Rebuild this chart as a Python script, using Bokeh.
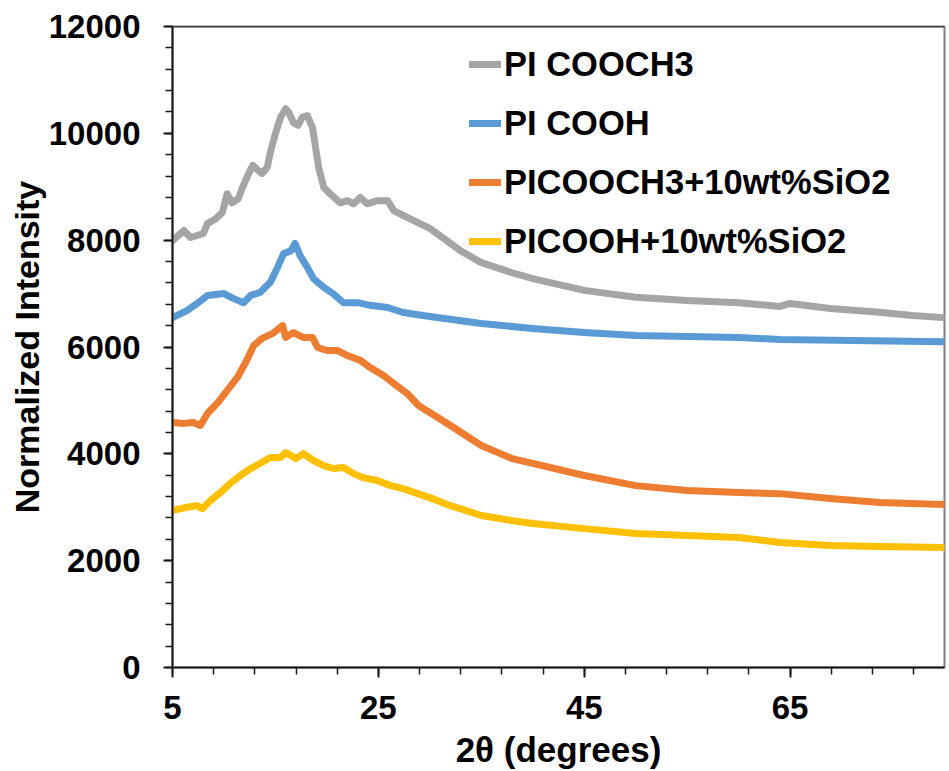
from bokeh.plotting import figure
from bokeh.models import FixedTicker, Span, Legend
from bokeh.embed import file_html
from bokeh.resources import INLINE

# ---- data ----
x_cooch3 = [5, 6.1, 6.75, 8, 8.4, 9.2, 9.85, 10.3, 10.8, 11.4, 11.8, 12.4, 12.8, 13.35, 13.7,
            14.2, 14.5, 15, 15.5, 16, 16.3, 16.75, 17.2, 17.6, 18.1, 18.6, 18.9, 19.2, 19.7,
            20.3, 21.3, 22, 22.6, 23.25, 23.9, 24.9, 25.9, 26.5, 27.8, 30, 33, 35, 38, 40,
            45, 50, 55, 60, 64, 65, 68.9, 73.7, 76.9, 79.9]
y_cooch3 = [7993, 8180, 8050, 8125, 8310, 8400, 8520, 8870, 8700, 8780, 8985, 9250, 9400, 9300, 9250,
            9360, 9640, 10000, 10300, 10460, 10390, 10200, 10150, 10300, 10330, 10110, 9735, 9360, 8985,
            8870, 8700, 8740, 8680, 8800, 8680, 8740, 8740, 8555, 8425, 8220, 7800, 7580, 7390, 7280,
            7060, 6930, 6870, 6830, 6760, 6815, 6720, 6650, 6590, 6550]

x_cooh = [5, 6.4, 7.4, 8.4, 10, 10.9, 11.9, 12.6, 13.5, 14.5, 15.2, 15.8, 16.5, 16.9, 17.4,
          18.1, 18.7, 19.7, 20.6, 21.6, 23, 24.2, 25.9, 27.4, 30, 35, 40, 45, 50, 55, 60, 64, 79.9]
y_cooh = [6550, 6680, 6815, 6965, 7000, 6910, 6830, 6965, 7020, 7210, 7490, 7750, 7800, 7940, 7710,
          7490, 7280, 7115, 7000, 6830, 6830, 6780, 6740, 6645, 6570, 6440, 6345, 6270, 6215, 6195, 6180, 6140, 6100]

x_cooch3_si = [5, 6.1, 7, 7.7, 8.4, 9.4, 10.3, 11.3, 12.1, 12.9, 13.7, 14.7, 15.7, 16, 16.75,
               17.7, 18.6, 19.1, 20, 21, 22, 23.25, 24.2, 25.5, 26.5, 27.8, 28.9, 30, 32, 35, 38,
               40, 45, 50, 55, 60, 64, 68.9, 73.7, 79.9]
y_cooch3_si = [4585, 4570, 4585, 4530, 4755, 4960, 5185, 5430, 5710, 6030, 6160, 6250, 6400, 6180, 6270,
               6180, 6180, 5990, 5935, 5935, 5840, 5750, 5615, 5465, 5315, 5130, 4905, 4775, 4530, 4155, 3910,
               3820, 3595, 3405, 3315, 3275, 3255, 3165, 3090, 3050]

x_cooh_si = [5, 6.4, 7.4, 7.9, 8.7, 9.65, 10.6, 11.6, 12.6, 13.5, 14.5, 15.5, 16, 17, 17.7,
             18.7, 19.7, 20.6, 21.6, 22.6, 23.5, 24.9, 26.2, 27.4, 28.8, 30, 32, 35, 38, 40,
             45, 50, 55, 60, 64, 68.9, 73.7, 79.9]
y_cooh_si = [2940, 3000, 3030, 2975, 3125, 3275, 3445, 3595, 3725, 3820, 3930, 3930, 4025, 3910, 4005,
             3875, 3780, 3725, 3745, 3630, 3555, 3500, 3405, 3350, 3255, 3180, 3030, 2845, 2750, 2695,
             2600, 2510, 2470, 2435, 2340, 2285, 2265, 2245]

series_names = ["PI COOCH3", "PI COOH", "PICOOCH3+10wt%SiO2", "PICOOH+10wt%SiO2"]
series_colors = ["#A5A5A5", "#5B9BD5", "#ED7D31", "#FFC000"]

x_major = [5, 25, 45, 65]
x_minor = list(range(5, 80, 4))
y_major = list(range(0, 12001, 2000))
y_minor = list(range(0, 12001, 400))

x_title = "2θ (degrees)"
y_title = "Normalized Intensity"

FONT = "Liberation Sans"

p = figure(width=949, height=771, output_backend="svg", toolbar_location=None,
           x_range=(5, 80), y_range=(0, 12000),
           min_border_left=172, min_border_right=5, min_border_top=26, min_border_bottom=104)
p.background_fill_color = "white"
p.border_fill_color = "white"
p.xgrid.visible = False
p.ygrid.visible = False
p.outline_line_color = "#7F7F7F"
p.outline_line_width = 2

series = [(x_cooch3, y_cooch3), (x_cooh, y_cooh), (x_cooch3_si, y_cooch3_si), (x_cooh_si, y_cooh_si)]
renderers = []
for (xs, ys), name, col in zip(series, series_names, series_colors):
    r = p.line(xs, ys, line_color=col, line_width=7, line_join="round", line_cap="round")
    renderers.append((name, [r]))

p.add_layout(Span(location=12000, dimension="width", line_color="black", line_width=1.5))

for ax, maj, mino in ((p.xaxis[0], x_major, x_minor), (p.yaxis[0], y_major, y_minor)):
    ax.ticker = FixedTicker(ticks=maj, minor_ticks=mino)
    ax.axis_line_color = "#1a1a1a"
    ax.axis_line_width = 2
    ax.major_tick_line_color = "#1a1a1a"
    ax.major_tick_line_width = 2
    ax.minor_tick_line_color = "#1a1a1a"
    ax.minor_tick_line_width = 1.5
    ax.major_tick_in = 0
    ax.minor_tick_in = 0
    ax.major_label_text_font = FONT
    ax.major_label_text_font_style = "bold"
    ax.major_label_text_font_size = "33px"
    ax.major_label_text_color = "black"
    ax.axis_label_text_font = FONT
    ax.axis_label_text_font_style = "bold"
    ax.axis_label_text_color = "black"

p.xaxis.major_tick_out = 10
p.xaxis.minor_tick_out = 7
p.xaxis.major_label_standoff = 18
p.xaxis.axis_label = x_title
p.xaxis.axis_label_text_font_size = "35px"
p.xaxis.axis_label_standoff = 8

p.yaxis.major_tick_out = 9
p.yaxis.minor_tick_out = 7
p.yaxis.major_label_standoff = 23
p.yaxis.axis_label = y_title
p.yaxis.axis_label_text_font_size = "34px"
p.yaxis.axis_label_standoff = 0

legend = Legend(items=renderers, location=(297, 406))
legend.border_line_color = None
legend.background_fill_alpha = 0
legend.label_text_font = FONT
legend.label_text_font_style = "bold"
legend.label_text_font_size = "34.5px"
legend.label_text_color = "black"
legend.glyph_width = 32
legend.glyph_height = 40
legend.label_height = 40
legend.label_standoff = 3
legend.spacing = 19
legend.padding = 10
legend.margin = 0
p.add_layout(legend)

open("out.html", "w").write(file_html(p, INLINE))
